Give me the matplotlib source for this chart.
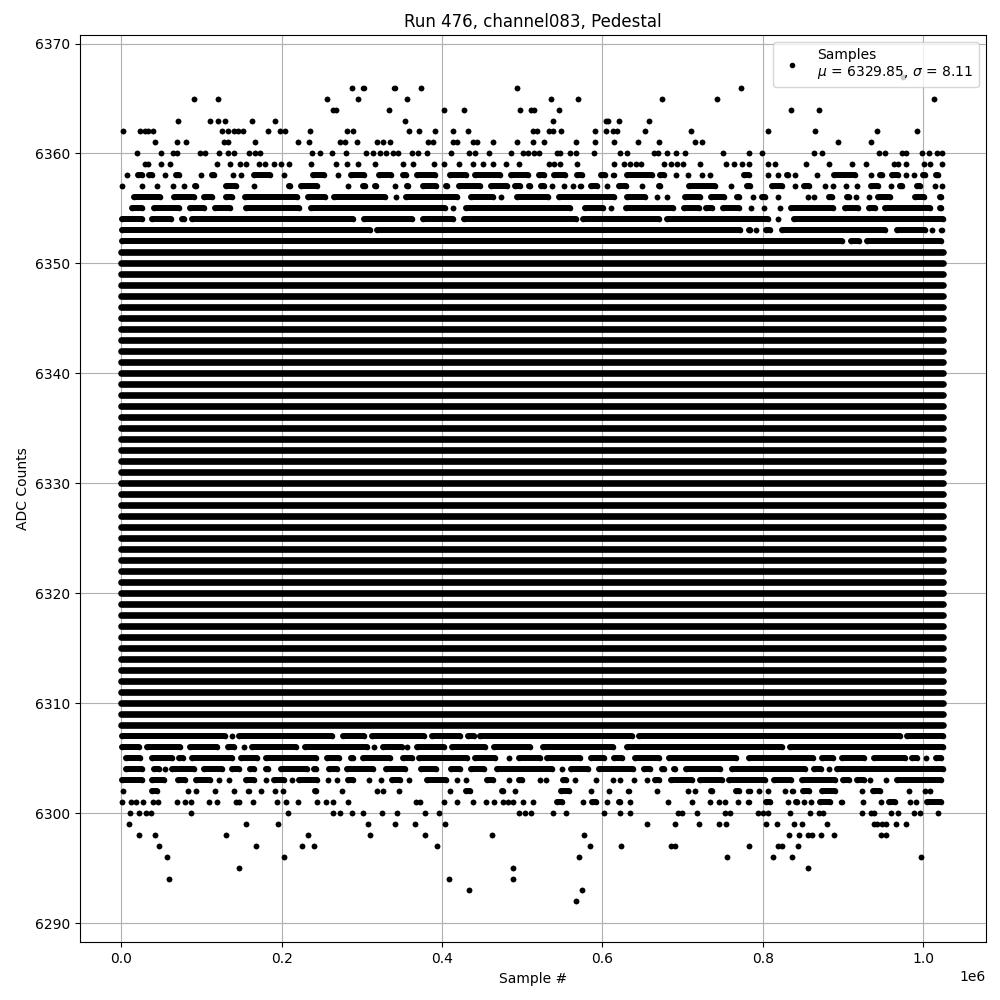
import matplotlib
matplotlib.use("Agg")
import matplotlib.pyplot as plt

# Values, x in thousands of samples.
# A run is (first, last) as seen at its outer edge; a lone sample has first == last.
mu = 6329.85
sigma = 8.11

runs_6367 = [(977, 977)]
runs_6366 = [(288, 288), (300, 305), (339, 344), (375, 375), (495, 495), (774, 774)]
runs_6365 = [(91, 91), (121, 121), (257, 257), (296, 296), (357, 357), (537, 537), (571, 571),
             (675, 675), (744, 744), (1015, 1015)]
runs_6364 = [(264, 264), (268, 268), (334, 334), (403, 403), (428, 428), (498, 498), (512, 512),
             (516, 516), (547, 547), (837, 837), (872, 872)]
runs_6363 = [(71, 71), (111, 111), (121, 121), (129, 129), (163, 163), (192, 192), (355, 355),
             (539, 539), (606, 606), (608, 608), (622, 622), (659, 659)]
runs_6362 = [(2, 2), (23, 23), (29, 29), (33, 33), (39, 39), (126, 126), (133, 133), (141, 141),
             (146, 146), (152, 152), (183, 183), (198, 198), (204, 204), (236, 236), (282, 282),
             (289, 289), (359, 359), (372, 372), (392, 392), (415, 415), (433, 433), (514, 514),
             (519, 519), (534, 534), (539, 539), (549, 549), (592, 592), (606, 606), (614, 614),
             (619, 619), (654, 654), (712, 712), (808, 808), (867, 867), (944, 944), (994, 994)]
runs_6361 = [(42, 42), (70, 70), (81, 81), (128, 128), (133, 133), (167, 167), (221, 221),
             (234, 234), (273, 273), (279, 279), (294, 294), (319, 319), (327, 327), (336, 336),
             (383, 383), (390, 390), (414, 414), (419, 419), (439, 439), (445, 445), (464, 464),
             (495, 495), (515, 515), (528, 528), (568, 568), (592, 592), (616, 616), (646, 646),
             (672, 672), (717, 717), (725, 725), (895, 895), (937, 937)]
runs_6360 = [(20, 20), (50, 50), (65, 65), (70, 70), (98, 98), (104, 104), (122, 122), (133, 133),
             (141, 141), (160, 160), (167, 167), (173, 173), (238, 238), (248, 248), (263, 263),
             (281, 281), (306, 306), (314, 314), (323, 323), (331, 331), (339, 339), (346, 346),
             (363, 363), (371, 371), (382, 382), (412, 412), (434, 434), (442, 442), (459, 459),
             (487, 487), (502, 502), (508, 508), (516, 516), (522, 522), (544, 544), (548, 548),
             (560, 560), (568, 568), (591, 591), (623, 623), (632, 632), (666, 666), (670, 670),
             (682, 682), (693, 693), (704, 704), (752, 752), (784, 784), (800, 800), (865, 865),
             (875, 875), (947, 947), (954, 954), (976, 976), (981, 981), (1000, 1000),
             (1009, 1009), (1019, 1019), (1026, 1026)]
runs_6359 = [(29, 29), (33, 33), (50, 50), (61, 61), (119, 119), (136, 136), (148, 148), (156, 156),
             (172, 172), (179, 179), (191, 191), (199, 199), (209, 209), (237, 237), (268, 268),
             (282, 282), (296, 296), (317, 317), (352, 352), (365, 365), (391, 391), (403, 403),
             (422, 422), (439, 439), (452, 452), (464, 464), (481, 481), (497, 497), (534, 534),
             (541, 541), (548, 548), (569, 569), (616, 616), (628, 628), (636, 636), (643, 643),
             (649, 649), (678, 678), (687, 687), (694, 694), (702, 702), (723, 723), (755, 755),
             (765, 765), (775, 775), (784, 784), (808, 808), (817, 817), (855, 855), (884, 884),
             (913, 913), (930, 930), (965, 965), (970, 970), (980, 980), (1003, 1003),
             (1011, 1011), (1025, 1025)]
runs_6358 = [(7, 7), (17, 29), (31, 42), (55, 55), (65, 75), (100, 100), (110, 119), (140, 140),
             (149, 149), (162, 189), (203, 203), (236, 257), (271, 271), (283, 306), (318, 340),
             (349, 359), (366, 395), (407, 434), (439, 477), (483, 512), (518, 531), (537, 558),
             (566, 579), (596, 608), (612, 618), (629, 666), (670, 682), (693, 693), (708, 708),
             (725, 725), (735, 735), (775, 788), (808, 808), (820, 820), (829, 837), (842, 842),
             (869, 869), (887, 920), (937, 937), (945, 954), (960, 974), (980, 980), (990, 990),
             (999, 1008), (1015, 1024)]
runs_6357 = [(1, 1), (23, 29), (44, 44), (65, 65), (78, 78), (89, 97), (128, 147), (166, 166),
             (206, 214), (221, 248), (280, 287), (298, 308), (314, 322), (342, 342), (354, 362),
             (373, 396), (402, 410), (418, 452), (458, 485), (489, 502), (506, 514), (521, 531),
             (538, 538), (553, 553), (564, 564), (571, 577), (584, 598), (607, 607), (618, 634),
             (650, 650), (668, 677), (706, 745), (758, 765), (779, 789), (810, 829), (842, 842),
             (850, 862), (879, 879), (889, 889), (906, 906), (919, 919), (933, 949), (962, 962),
             (970, 979), (991, 1001), (1017, 1017), (1026, 1026)]
runs_6356 = [(12, 52), (62, 94), (100, 117), (127, 142), (151, 223), (230, 258), (262, 333),
             (343, 343), (352, 423), (433, 468), (475, 475), (491, 537), (543, 619), (629, 658),
             (666, 673), (682, 682), (701, 726), (733, 757), (766, 775), (789, 789), (797, 808),
             (820, 820), (858, 858), (866, 866), (881, 891), (904, 912), (918, 918), (934, 934),
             (942, 964), (989, 1006), (1020, 1028)]
runs_6355 = [(10, 29), (37, 75), (82, 107), (114, 139), (152, 225), (233, 408), (414, 414),
             (427, 564), (576, 605), (612, 612), (627, 693), (700, 725), (727, 741), (748, 775),
             (787, 787), (800, 806), (823, 823), (833, 893), (901, 924), (931, 945), (951, 1014),
             (1020, 1028)]
runs_6354 = [(-3, 29), (35, 65), (73, 81), (85, 293), (300, 366), (373, 418), (425, 571),
             (573, 675), (679, 812), (820, 820), (837, 1030)]
runs_6353 = [(-3, 314), (316, 777), (781, 789), (793, 793), (802, 814), (822, 958), (966, 1008),
             (1013, 1013), (1022, 1028)]
runs_6352 = [(-3, 904), (908, 925), (929, 1027)]

solid_levels = [6351, 6350, 6349, 6348, 6347, 6346, 6345, 6344, 6343, 6342, 6341, 6340, 6339,
                6338, 6337, 6336, 6335, 6334, 6333, 6332, 6331, 6330, 6329, 6328, 6327, 6326,
                6325, 6324, 6323, 6322, 6321, 6320, 6319, 6318, 6317, 6316, 6315, 6314, 6313,
                6312, 6311, 6310, 6309, 6308]
solid_first = -3.3
solid_last = 1030

runs_6307 = [(-3, 133), (138, 138), (144, 266), (273, 306), (310, 381), (385, 426), (430, 444),
             (445, 641), (643, 976), (979, 1030)]
runs_6306 = [(-2, 25), (29, 77), (83, 123), (130, 144), (150, 156), (160, 221), (226, 310),
             (316, 316), (323, 354), (357, 357), (366, 406), (410, 458), (462, 514), (523, 618),
             (629, 829), (832, 1030)]
runs_6305 = [(2, 27), (35, 67), (69, 80), (85, 142), (146, 173), (177, 246), (254, 275), (283, 293),
             (298, 339), (348, 366), (368, 435), (439, 470), (485, 485), (493, 527), (529, 577),
             (583, 606), (612, 629), (639, 675), (681, 772), (781, 868), (872, 893), (897, 931),
             (937, 983), (985, 997), (1005, 1005), (1015, 1028)]
runs_6304 = [(2, 29), (37, 50), (54, 54), (60, 94), (100, 129), (135, 150), (158, 169), (178, 187),
             (196, 235), (237, 246), (256, 273), (279, 318), (327, 358), (371, 396), (408, 427),
             (434, 457), (466, 541), (550, 550), (558, 587), (593, 643), (650, 664), (672, 681),
             (687, 695), (702, 752), (760, 857), (862, 877), (881, 887), (891, 1030)]
runs_6303 = [(-3, 29), (35, 56), (68, 83), (90, 114), (122, 122), (134, 134), (152, 169), (181, 181),
             (187, 206), (213, 213), (219, 248), (258, 258), (266, 273), (280, 293), (309, 309),
             (325, 325), (335, 352), (360, 360), (378, 409), (419, 419), (427, 434), (454, 468),
             (484, 484), (493, 504), (523, 523), (531, 531), (548, 559), (567, 567), (593, 593),
             (614, 614), (623, 623), (640, 640), (657, 657), (664, 675), (683, 716), (720, 754),
             (756, 808), (812, 840), (847, 895), (898, 912), (916, 931), (935, 935), (956, 956),
             (966, 1027)]
runs_6302 = [(2, 2), (35, 48), (83, 83), (93, 93), (117, 117), (137, 144), (156, 162), (174, 174),
             (192, 192), (202, 202), (239, 246), (276, 276), (319, 319), (327, 327), (343, 350),
             (411, 411), (427, 439), (472, 480), (489, 495), (546, 563), (587, 587), (609, 609),
             (631, 637), (669, 669), (708, 708), (714, 720), (734, 741), (765, 775), (782, 787),
             (797, 797), (805, 811), (829, 829), (836, 841), (848, 862), (872, 895), (926, 926),
             (936, 951), (981, 987), (1004, 1004), (1011, 1011)]
runs_6301 = [(1, 1), (12, 12), (18, 18), (27, 27), (39, 39), (46, 46), (70, 70), (80, 80), (87, 87),
             (109, 109), (119, 119), (143, 143), (147, 147), (164, 164), (194, 194), (206, 206),
             (221, 221), (244, 244), (256, 256), (264, 264), (283, 283), (368, 368), (373, 373),
             (403, 403), (419, 419), (440, 440), (456, 456), (466, 466), (477, 477), (483, 483),
             (490, 490), (502, 502), (514, 514), (541, 554), (577, 577), (585, 596), (604, 610),
             (618, 626), (636, 636), (683, 683), (710, 717), (732, 739), (747, 747), (754, 754),
             (770, 770), (781, 786), (802, 814), (833, 833), (840, 847), (853, 853), (862, 862),
             (870, 889), (897, 902), (927, 927), (949, 949), (956, 970), (985, 985), (993, 993),
             (1004, 1028)]
runs_6300 = [(11, 11), (22, 22), (31, 31), (37, 37), (87, 87), (208, 208), (264, 264), (273, 273),
             (288, 288), (302, 302), (326, 326), (344, 344), (379, 379), (397, 397), (497, 497),
             (505, 505), (512, 512), (539, 539), (556, 556), (603, 603), (623, 623), (636, 636),
             (695, 695), (700, 700), (719, 719), (754, 754), (760, 760), (795, 795), (802, 802),
             (808, 808), (835, 835), (860, 860), (872, 872), (877, 877), (925, 925), (937, 937),
             (941, 941), (962, 962), (970, 970), (990, 990), (998, 998), (1021, 1021)]
runs_6299 = [(10, 10), (156, 156), (196, 196), (308, 308), (342, 342), (367, 367), (404, 404),
             (657, 657), (692, 692), (722, 722), (747, 747), (755, 755), (805, 805), (819, 819),
             (840, 840), (850, 850), (882, 882), (940, 940), (944, 944), (951, 951), (956, 956),
             (968, 968), (981, 981)]
runs_6298 = [(22, 22), (42, 42), (131, 131), (233, 233), (311, 311), (379, 379), (463, 463),
             (578, 578), (834, 834), (847, 847), (858, 858), (863, 863), (874, 874), (890, 890),
             (949, 949), (955, 955)]
runs_6297 = [(47, 47), (168, 168), (226, 226), (241, 241), (395, 395), (586, 586), (624, 624),
             (687, 687), (692, 692), (784, 784), (820, 820), (825, 825), (845, 845)]
runs_6296 = [(57, 57), (203, 203), (572, 572), (757, 757), (814, 814), (838, 838), (999, 999)]
runs_6295 = [(147, 147), (490, 490), (858, 858)]
runs_6294 = [(60, 60), (410, 410), (490, 490)]
runs_6293 = [(435, 435), (576, 576)]
runs_6292 = [(568, 568)]

run_levels = [6367, 6366, 6365, 6364, 6363, 6362, 6361, 6360, 6359, 6358, 6357, 6356, 6355, 6354,
              6353, 6352, 6307, 6306, 6305, 6304, 6303, 6302, 6301, 6300, 6299, 6298, 6297, 6296,
              6295, 6294, 6293, 6292]
run_rows = [runs_6367, runs_6366, runs_6365, runs_6364, runs_6363, runs_6362, runs_6361, runs_6360,
            runs_6359, runs_6358, runs_6357, runs_6356, runs_6355, runs_6354, runs_6353, runs_6352,
            runs_6307, runs_6306, runs_6305, runs_6304, runs_6303, runs_6302, runs_6301, runs_6300,
            runs_6299, runs_6298, runs_6297, runs_6296, runs_6295, runs_6294, runs_6293, runs_6292]

dot_radius = 3.3  # half a dot, in thousands of samples
read_scale = 0.998  # readings were taken with a slightly short axis

fig, ax = plt.subplots(figsize=(10, 10))

xs, ys, seg_y, seg_x0, seg_x1 = [], [], [], [], []
for level, row in zip(run_levels, run_rows):
    for first, last in row:
        if first != last:
            first += dot_radius
            last -= dot_radius
        xs += [first * read_scale * 1000, last * read_scale * 1000]
        ys += [level, level]
        if first < last:
            seg_y.append(level)
            seg_x0.append(first * read_scale * 1000)
            seg_x1.append(last * read_scale * 1000)

solid_x0 = (solid_first + dot_radius) * read_scale * 1000
solid_x1 = (solid_last - dot_radius) * read_scale * 1000

ax.hlines(seg_y, seg_x0, seg_x1, colors="k", linewidth=4.3, capstyle="round", zorder=2)
ax.hlines(solid_levels, solid_x0, solid_x1, colors="k", linewidth=4.8, capstyle="round", zorder=2)
ax.plot(xs, ys, ".", color="k", label=f"Samples\n$\\mu$ = {mu:.2f}, $\\sigma$ = {sigma:.2f}")
ax.set_title("Run 476, channel083, Pedestal")
ax.set_xlabel("Sample #")
ax.set_ylabel("ADC Counts")
ax.set_xlim(-51300, 1078000)
ax.set_ylim(6288.25, 6370.75)
ax.grid(True)
ax.legend(loc="upper right")
fig.subplots_adjust(left=0.0803, right=0.9857, bottom=0.0577, top=0.9647)
fig.savefig("out.png", dpi=100)
